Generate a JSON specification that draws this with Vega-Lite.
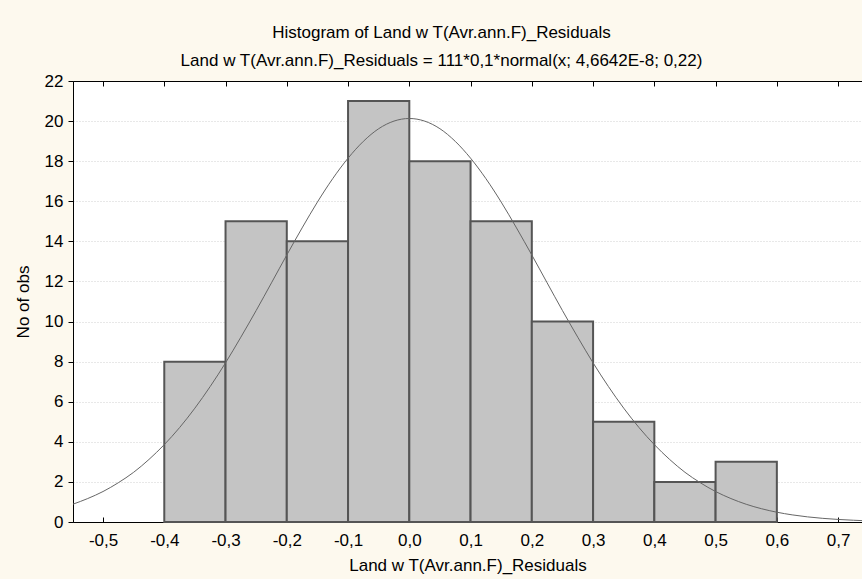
{
  "$schema": "https://vega.github.io/schema/vega-lite/v6.json",
  "width": 789,
  "height": 441,
  "autosize": "none",
  "padding": {"left": 73, "top": 81, "right": 0, "bottom": 57},
  "background": "#fdf9ee",
  "config": {
    "locale": {"number": {"decimal": ",", "thousands": ".", "grouping": [3], "currency": ["", ""], "minus": "-"}},
    "font": "Liberation Sans",
    "view": {"fill": "white", "stroke": "black", "strokeWidth": 1},
    "axis": {"labelFont": "Liberation Sans", "titleFont": "Liberation Sans", "labelFontSize": 17, "titleFontSize": 17, "labelColor": "black", "titleColor": "black", "titleFontWeight": "normal", "domainColor": "black", "tickColor": "black"}
  },
  "title": {
    "text": ["Histogram of Land w T(Avr.ann.F)_Residuals", "Land w T(Avr.ann.F)_Residuals = 111*0,1*normal(x; 4,6642E-8; 0,22)"],
    "fontSize": 17,
    "fontWeight": "normal",
    "font": "Liberation Sans",
    "color": "black",
    "lineHeight": 28,
    "anchor": "middle",
    "dx": -26,
    "offset": 2
  },
  "datasets": {
    "bins": [
      {"start": -0.4, "end": -0.3, "count": 8},
      {"start": -0.3, "end": -0.2, "count": 15},
      {"start": -0.2, "end": -0.1, "count": 14},
      {"start": -0.1, "end": 0.0, "count": 21},
      {"start": 0.0, "end": 0.1, "count": 18},
      {"start": 0.1, "end": 0.2, "count": 15},
      {"start": 0.2, "end": 0.3, "count": 10},
      {"start": 0.3, "end": 0.4, "count": 5},
      {"start": 0.4, "end": 0.5, "count": 2},
      {"start": 0.5, "end": 0.6, "count": 3}
    ],
    "curve": [
      {"x": -0.549, "y": 0.89},
      {"x": -0.525, "y": 1.17},
      {"x": -0.5, "y": 1.52},
      {"x": -0.475, "y": 1.96},
      {"x": -0.45, "y": 2.48},
      {"x": -0.425, "y": 3.12},
      {"x": -0.4, "y": 3.86},
      {"x": -0.375, "y": 4.71},
      {"x": -0.35, "y": 5.68},
      {"x": -0.325, "y": 6.76},
      {"x": -0.3, "y": 7.94},
      {"x": -0.275, "y": 9.22},
      {"x": -0.25, "y": 10.55},
      {"x": -0.225, "y": 11.93},
      {"x": -0.2, "y": 13.32},
      {"x": -0.175, "y": 14.67},
      {"x": -0.15, "y": 15.96},
      {"x": -0.125, "y": 17.13},
      {"x": -0.1, "y": 18.15},
      {"x": -0.075, "y": 18.99},
      {"x": -0.05, "y": 19.62},
      {"x": -0.025, "y": 20.0},
      {"x": 0.0, "y": 20.13},
      {"x": 0.025, "y": 20.0},
      {"x": 0.05, "y": 19.62},
      {"x": 0.075, "y": 18.99},
      {"x": 0.1, "y": 18.15},
      {"x": 0.125, "y": 17.13},
      {"x": 0.15, "y": 15.96},
      {"x": 0.175, "y": 14.67},
      {"x": 0.2, "y": 13.32},
      {"x": 0.225, "y": 11.93},
      {"x": 0.25, "y": 10.55},
      {"x": 0.275, "y": 9.22},
      {"x": 0.3, "y": 7.94},
      {"x": 0.325, "y": 6.76},
      {"x": 0.35, "y": 5.68},
      {"x": 0.375, "y": 4.71},
      {"x": 0.4, "y": 3.86},
      {"x": 0.425, "y": 3.12},
      {"x": 0.45, "y": 2.48},
      {"x": 0.475, "y": 1.96},
      {"x": 0.5, "y": 1.52},
      {"x": 0.525, "y": 1.17},
      {"x": 0.55, "y": 0.884},
      {"x": 0.575, "y": 0.662},
      {"x": 0.6, "y": 0.488},
      {"x": 0.625, "y": 0.356},
      {"x": 0.65, "y": 0.256},
      {"x": 0.675, "y": 0.182},
      {"x": 0.7, "y": 0.128},
      {"x": 0.725, "y": 0.088},
      {"x": 0.739, "y": 0.07}
    ]
  },
  "layer": [
    {
      "data": {"name": "bins"},
      "mark": {"type": "rect", "fill": "#c4c4c4", "stroke": "#555555", "strokeWidth": 2},
      "encoding": {
        "x": {
          "field": "start", "type": "quantitative",
          "scale": {"domain": [-0.549, 0.739], "nice": false, "zero": false},
          "axis": {
            "values": [-0.5, -0.4, -0.3, -0.2, -0.1, 0, 0.1, 0.2, 0.3, 0.4, 0.5, 0.6, 0.7],
            "format": ".1f",
            "grid": false,
            "tickSize": -5,
            "labelPadding": 15,
            "title": "Land w T(Avr.ann.F)_Residuals",
            "titlePadding": 9
          }
        },
        "x2": {"field": "end"},
        "y": {
          "field": "count", "type": "quantitative",
          "scale": {"domain": [0, 22], "nice": false},
          "axis": {
            "values": [0, 2, 4, 6, 8, 10, 12, 14, 16, 18, 20, 22],
            "format": "d",
            "grid": true,
            "gridColor": "#d0d0d0",
            "gridDash": [1, 2],
            "tickSize": 5,
            "labelPadding": 5,
            "title": "No of obs",
            "titlePadding": 12
          }
        },
        "y2": {"datum": 0}
      }
    },
    {
      "data": {"name": "curve"},
      "mark": {"type": "line", "color": "#666666", "strokeWidth": 1, "interpolate": "monotone", "clip": true},
      "encoding": {
        "x": {
          "field": "x", "type": "quantitative",
          "axis": {
            "orient": "top",
            "values": [-0.5, -0.4, -0.3, -0.2, -0.1, 0, 0.1, 0.2, 0.3, 0.4, 0.5, 0.6, 0.7],
            "labels": false,
            "grid": false,
            "tickSize": -5,
            "title": null
          }
        },
        "y": {"field": "y", "type": "quantitative"}
      }
    }
  ],
  "resolve": {"axis": {"x": "independent"}}
}
